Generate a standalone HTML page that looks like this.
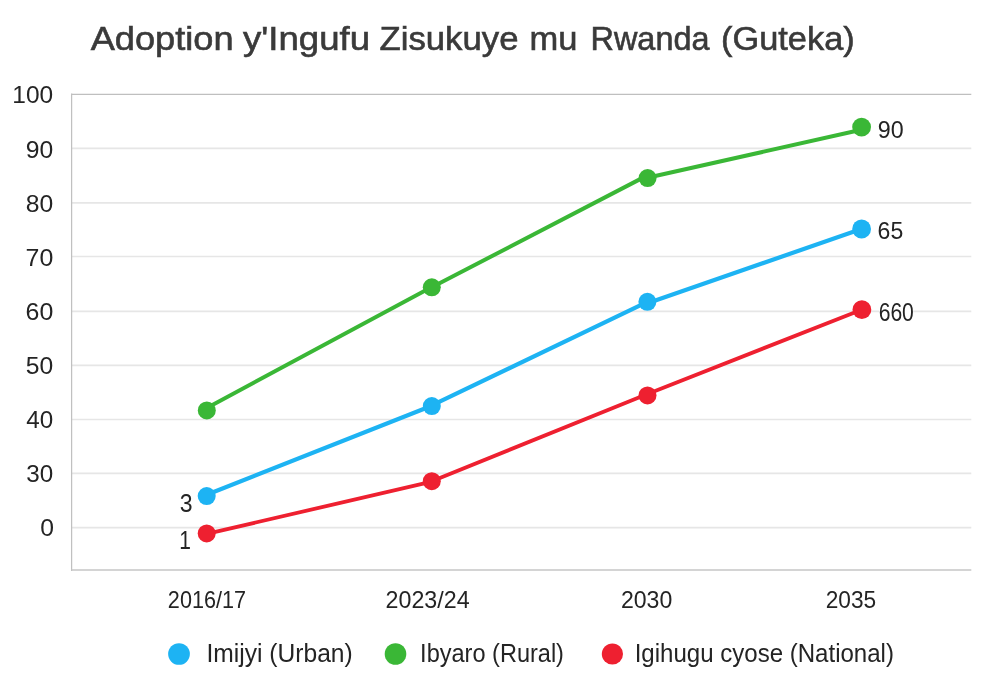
<!DOCTYPE html>
<html lang="rw"><head><meta charset="utf-8"><title>Adoption y'Ingufu Zisukuye mu Rwanda (Guteka)</title>
<style>
html,body{margin:0;padding:0;background:#fff;}
body{width:1005px;height:691px;overflow:hidden;font-family:"Liberation Sans",sans-serif;}
svg{display:block;}
text{font-family:"Liberation Sans",sans-serif;fill:#242424;}
.title text{fill:#3a3a3a;stroke:#3a3a3a;stroke-width:0.6px;}
</style></head><body>
<svg width="1005" height="691" viewBox="0 0 1005 691">
<rect width="1005" height="691" fill="#ffffff"/>

<g class="title">
<text y="50.4" font-size="33.4"><tspan x="90.67" textLength="142.91" lengthAdjust="spacingAndGlyphs">Adoption</tspan> <tspan x="242.97" textLength="127.12" lengthAdjust="spacingAndGlyphs">y&#39;Ingufu</tspan> <tspan x="379.52" textLength="138.95" lengthAdjust="spacingAndGlyphs">Zisukuye</tspan> <tspan x="529.53" textLength="47.92" lengthAdjust="spacingAndGlyphs">mu</tspan> <tspan x="590.57" textLength="118.9" lengthAdjust="spacingAndGlyphs">Rwanda</tspan> <tspan x="721.0" textLength="133.71" lengthAdjust="spacingAndGlyphs">(Guteka)</tspan></text>
</g>
<g class="grid">
<line x1="71.6" y1="94.3" x2="971.3" y2="94.3" stroke="#bfbfbf" stroke-width="1.25"/>
<line x1="71.6" y1="148.3" x2="971.3" y2="148.3" stroke="#e6e6e6" stroke-width="1.7"/>
<line x1="71.6" y1="202.9" x2="971.3" y2="202.9" stroke="#e6e6e6" stroke-width="1.7"/>
<line x1="71.6" y1="256.5" x2="971.3" y2="256.5" stroke="#e6e6e6" stroke-width="1.7"/>
<line x1="71.6" y1="311.3" x2="971.3" y2="311.3" stroke="#e6e6e6" stroke-width="1.7"/>
<line x1="71.6" y1="365.3" x2="971.3" y2="365.3" stroke="#e6e6e6" stroke-width="1.7"/>
<line x1="71.6" y1="419.5" x2="971.3" y2="419.5" stroke="#e6e6e6" stroke-width="1.7"/>
<line x1="71.6" y1="473.4" x2="971.3" y2="473.4" stroke="#e6e6e6" stroke-width="1.7"/>
<line x1="71.6" y1="527.7" x2="971.3" y2="527.7" stroke="#e6e6e6" stroke-width="1.7"/>
<line x1="71.6" y1="93.55" x2="71.6" y2="570.9" stroke="#c0c0c0" stroke-width="1.25"/>
<line x1="71.6" y1="570.0" x2="971.3" y2="570.0" stroke="#c6c6c6" stroke-width="1.55"/>
</g>
<g class="ylabels">
<text x="12.36" y="103.0" font-size="24.6" textLength="40.83" lengthAdjust="spacingAndGlyphs">100</text>
<text x="25.8" y="157.7" font-size="24.6" textLength="27.47" lengthAdjust="spacingAndGlyphs">90</text>
<text x="25.8" y="212.0" font-size="24.6" textLength="27.47" lengthAdjust="spacingAndGlyphs">80</text>
<text x="25.53" y="266.0" font-size="24.6" textLength="27.74" lengthAdjust="spacingAndGlyphs">70</text>
<text x="25.53" y="320.4" font-size="24.6" textLength="27.74" lengthAdjust="spacingAndGlyphs">60</text>
<text x="25.8" y="373.5" font-size="24.6" textLength="27.47" lengthAdjust="spacingAndGlyphs">50</text>
<text x="26.31" y="427.9" font-size="24.6" textLength="26.94" lengthAdjust="spacingAndGlyphs">40</text>
<text x="26.32" y="481.8" font-size="24.6" textLength="26.93" lengthAdjust="spacingAndGlyphs">30</text>
<text x="40.2" y="536.0" font-size="24.6" textLength="13.75" lengthAdjust="spacingAndGlyphs">0</text>
</g>
<g class="series">
<line x1="206.8" y1="407.9" x2="431.8" y2="286.9" stroke="#3ab736" stroke-width="4.0" stroke-linecap="round"/>
<line x1="431.8" y1="287.3" x2="647.4" y2="175.4" stroke="#3ab736" stroke-width="4.0" stroke-linecap="round"/>
<line x1="647.4" y1="177.8" x2="861.3" y2="129.7" stroke="#3ab736" stroke-width="4.0" stroke-linecap="round"/>
<circle cx="206.8" cy="410.4" r="9.0" fill="#3ab736"/>
<circle cx="431.8" cy="287.3" r="9.0" fill="#3ab736"/>
<circle cx="647.6" cy="178.1" r="9.0" fill="#3ab736"/>
<circle cx="861.6" cy="127.1" r="9.4" fill="#3ab736"/>
<line x1="206.7" y1="494.8" x2="431.8" y2="405.7" stroke="#1db3f3" stroke-width="4.2" stroke-linecap="round"/>
<line x1="431.8" y1="405.4" x2="647.4" y2="301.9" stroke="#1db3f3" stroke-width="4.2" stroke-linecap="round"/>
<line x1="647.4" y1="303.3" x2="861.3" y2="229.0" stroke="#1db3f3" stroke-width="4.2" stroke-linecap="round"/>
<circle cx="206.7" cy="496.1" r="9.0" fill="#1db3f3"/>
<circle cx="431.8" cy="406.1" r="9.0" fill="#1db3f3"/>
<circle cx="647.4" cy="301.8" r="9.0" fill="#1db3f3"/>
<circle cx="861.6" cy="229.0" r="9.4" fill="#1db3f3"/>
<line x1="206.7" y1="533.9" x2="431.8" y2="481.6" stroke="#ee2030" stroke-width="3.8" stroke-linecap="round"/>
<line x1="431.8" y1="481.2" x2="647.5" y2="394.0" stroke="#ee2030" stroke-width="3.8" stroke-linecap="round"/>
<line x1="647.5" y1="394.0" x2="861.6" y2="309.7" stroke="#ee2030" stroke-width="3.8" stroke-linecap="round"/>
<circle cx="206.7" cy="533.4" r="9.0" fill="#ee2030"/>
<circle cx="431.8" cy="481.2" r="9.0" fill="#ee2030"/>
<circle cx="647.5" cy="395.4" r="9.0" fill="#ee2030"/>
<circle cx="861.9" cy="309.7" r="9.4" fill="#ee2030"/>
</g>
<g class="datalabels">
<rect x="879.3" y="303" width="34" height="18.5" fill="#fff"/>
<text x="877.73" y="138.0" font-size="24" textLength="25.89" lengthAdjust="spacingAndGlyphs">90</text>
<text x="877.6" y="238.6" font-size="24" textLength="25.61" lengthAdjust="spacingAndGlyphs">65</text>
<text x="878.65" y="320.9" font-size="25.2" textLength="35.21" lengthAdjust="spacingAndGlyphs">660</text>
<text x="179.69" y="511.6" font-size="25.4" textLength="12.83" lengthAdjust="spacingAndGlyphs">3</text>
<text x="179.36" y="549.0" font-size="25.6" textLength="11.65" lengthAdjust="spacingAndGlyphs">1</text>
</g>
<g class="xlabels">
<text x="167.87" y="608.2" font-size="23.9" textLength="78.13" lengthAdjust="spacingAndGlyphs">2016/17</text>
<text x="385.58" y="608.2" font-size="23.9" textLength="84.01" lengthAdjust="spacingAndGlyphs">2023/24</text>
<text x="620.89" y="608.2" font-size="23.9" textLength="51.38" lengthAdjust="spacingAndGlyphs">2030</text>
<text x="825.71" y="608.2" font-size="23.9" textLength="50.45" lengthAdjust="spacingAndGlyphs">2035</text>
</g>
<g class="legend">
<circle cx="179.0" cy="654.0" r="10.85" fill="#1db3f3"/>
<text x="206.52" y="662.3" font-size="25.4" textLength="146.19" lengthAdjust="spacingAndGlyphs">Imijyi (Urban)</text>
<circle cx="395.5" cy="654.0" r="10.8" fill="#3ab736"/>
<text x="420.11" y="662.3" font-size="25.4" textLength="143.85" lengthAdjust="spacingAndGlyphs">Ibyaro (Rural)</text>
<circle cx="612.4" cy="654.0" r="10.6" fill="#ee2030"/>
<text x="634.67" y="662.3" font-size="25.4" textLength="259.31" lengthAdjust="spacingAndGlyphs">Igihugu cyose (National)</text>
</g>
</svg>
</body></html>
